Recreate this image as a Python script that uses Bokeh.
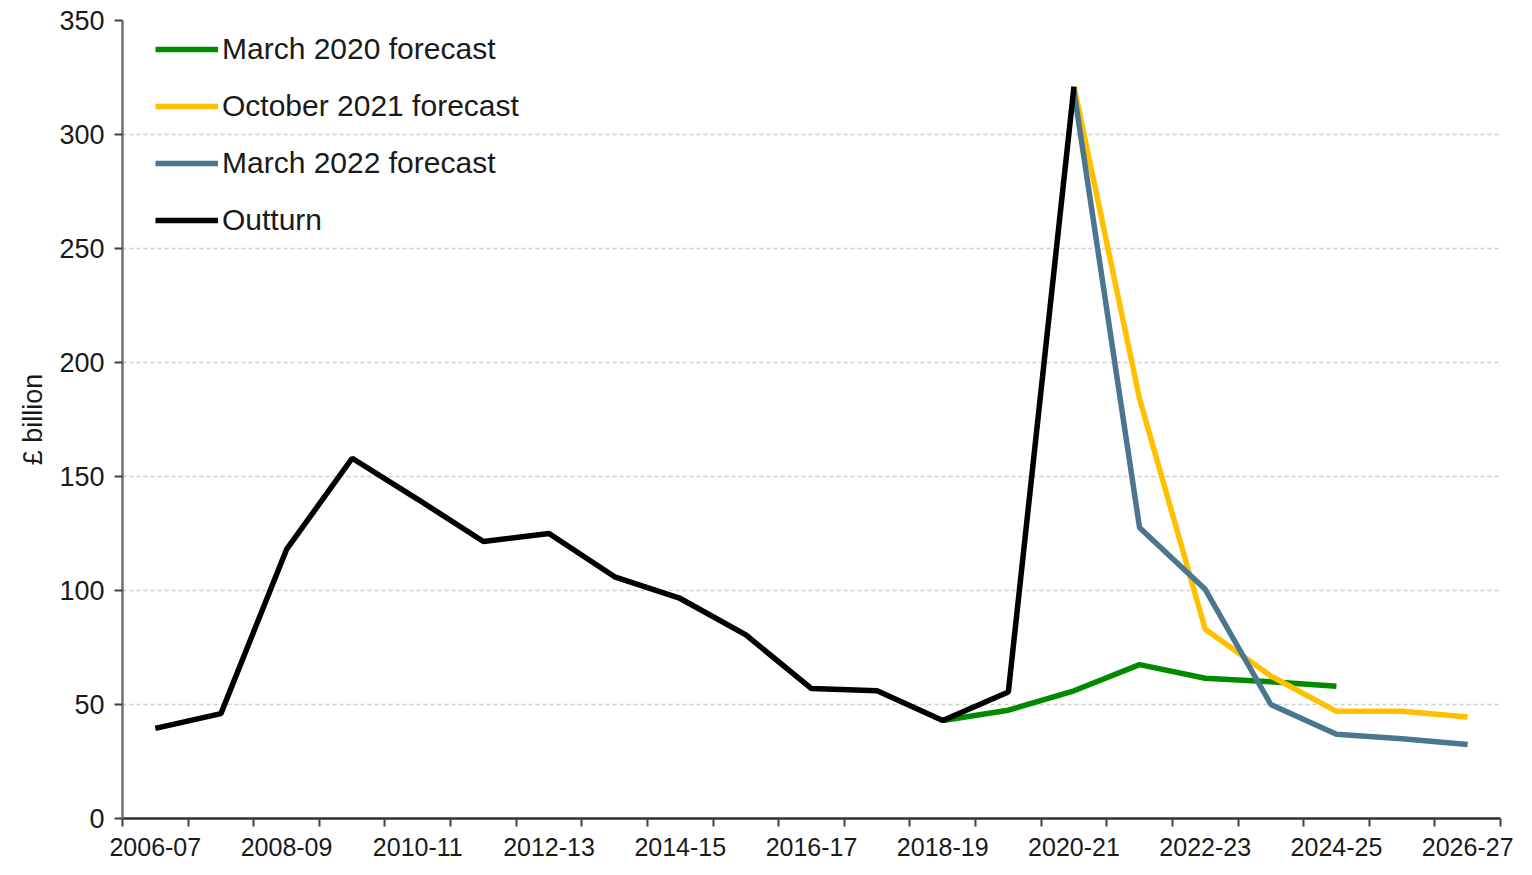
from bokeh.plotting import figure
from bokeh.models import Range1d, FixedTicker, Legend, LegendItem
from bokeh.embed import file_html
from bokeh.resources import INLINE

years = ["2006-07", "2007-08", "2008-09", "2009-10", "2010-11", "2011-12", "2012-13",
         "2013-14", "2014-15", "2015-16", "2016-17", "2017-18", "2018-19", "2019-20",
         "2020-21", "2021-22", "2022-23", "2023-24", "2024-25", "2025-26", "2026-27"]

outturn_years = years[0:15]
outturn = [39.5, 46, 118, 158, 140, 121.5, 125, 106, 96.5, 80.5, 57, 56, 43, 55.5, 321]

mar2020_years = years[12:19]
mar2020 = [43, 47.5, 56, 67.5, 61.5, 60, 58]

oct2021_years = years[14:21]
oct2021 = [321, 184, 83, 62.5, 47, 47, 44.5]

mar2022_years = years[14:21]
mar2022 = [319, 127.5, 100.5, 50, 37, 35, 32.5]

FONT = "Liberation Sans"
idx = {y: i for i, y in enumerate(years)}

p = figure(width=1516, height=859, output_backend="svg", toolbar_location=None,
           x_range=Range1d(-0.5, len(years) - 0.5), y_range=Range1d(0, 350),
           min_border_left=122, min_border_right=16, min_border_top=20, min_border_bottom=41)
p.outline_line_color = None
p.background_fill_color = "white"

r_m20 = p.line([idx[y] for y in mar2020_years], mar2020, line_color="#008A00", line_width=5.5)
r_o21 = p.line([idx[y] for y in oct2021_years], oct2021, line_color="#FFC000", line_width=5.5)
r_m22 = p.line([idx[y] for y in mar2022_years], mar2022, line_color="#4A7690", line_width=5.5)
r_out = p.line([idx[y] for y in outturn_years], outturn, line_color="black", line_width=5.5)

# x axis
major = list(range(0, len(years), 2))
p.xaxis.ticker = FixedTicker(ticks=major, minor_ticks=[i - 0.5 for i in range(len(years) + 1)])
p.xaxis.major_label_overrides = {i: years[i] for i in major}
p.xaxis.major_tick_line_color = None
p.xaxis.major_tick_out = 0
p.xaxis.major_tick_in = 0
p.xaxis.minor_tick_out = 8
p.xaxis.minor_tick_in = 0
p.xaxis.minor_tick_line_color = "#404040"
p.xaxis.minor_tick_line_width = 2
p.xaxis.axis_line_color = "#303030"
p.xaxis.axis_line_width = 2.5
p.xaxis.major_label_standoff = 11
p.xaxis.major_label_text_font = FONT
p.xaxis.major_label_text_font_size = "25px"
p.xaxis.major_label_text_color = "#1a1a1a"
p.xgrid.grid_line_color = None

# y axis
p.yaxis.ticker = FixedTicker(ticks=list(range(0, 351, 50)))
p.yaxis.minor_tick_line_color = None
p.yaxis.major_tick_out = 8
p.yaxis.major_tick_in = 0
p.yaxis.major_tick_line_color = "#404040"
p.yaxis.major_tick_line_width = 2
p.yaxis.axis_line_color = "#707070"
p.yaxis.axis_line_width = 2.5
p.yaxis.major_label_standoff = 10
p.yaxis.major_label_text_font = FONT
p.yaxis.major_label_text_font_size = "27px"
p.yaxis.major_label_text_color = "#1a1a1a"
p.yaxis.axis_label = "£ billion"
p.yaxis.axis_label_text_font = FONT
p.yaxis.axis_label_text_font_size = "27px"
p.yaxis.axis_label_text_font_style = "normal"
p.yaxis.axis_label_text_color = "#1a1a1a"
p.yaxis.axis_label_standoff = 8
p.ygrid.grid_line_color = "#cfcfcf"
p.ygrid.grid_line_dash = "4 3"
p.ygrid.grid_line_width = 1.5

legend = Legend(items=[
    LegendItem(label="March 2020 forecast", renderers=[r_m20]),
    LegendItem(label="October 2021 forecast", renderers=[r_o21]),
    LegendItem(label="March 2022 forecast", renderers=[r_m22]),
    LegendItem(label="Outturn", renderers=[r_out]),
])
legend.label_text_font = FONT
legend.label_text_font_size = "30px"
legend.label_text_color = "#1a1a1a"
legend.glyph_width = 63
legend.glyph_height = 30
legend.label_height = 30
legend.label_standoff = 4
legend.spacing = 23
legend.padding = 0
legend.margin = 0
legend.location = (33, 581)
legend.border_line_color = None
legend.background_fill_alpha = 0
p.add_layout(legend)

open("out.html", "w").write(file_html(p, INLINE))
